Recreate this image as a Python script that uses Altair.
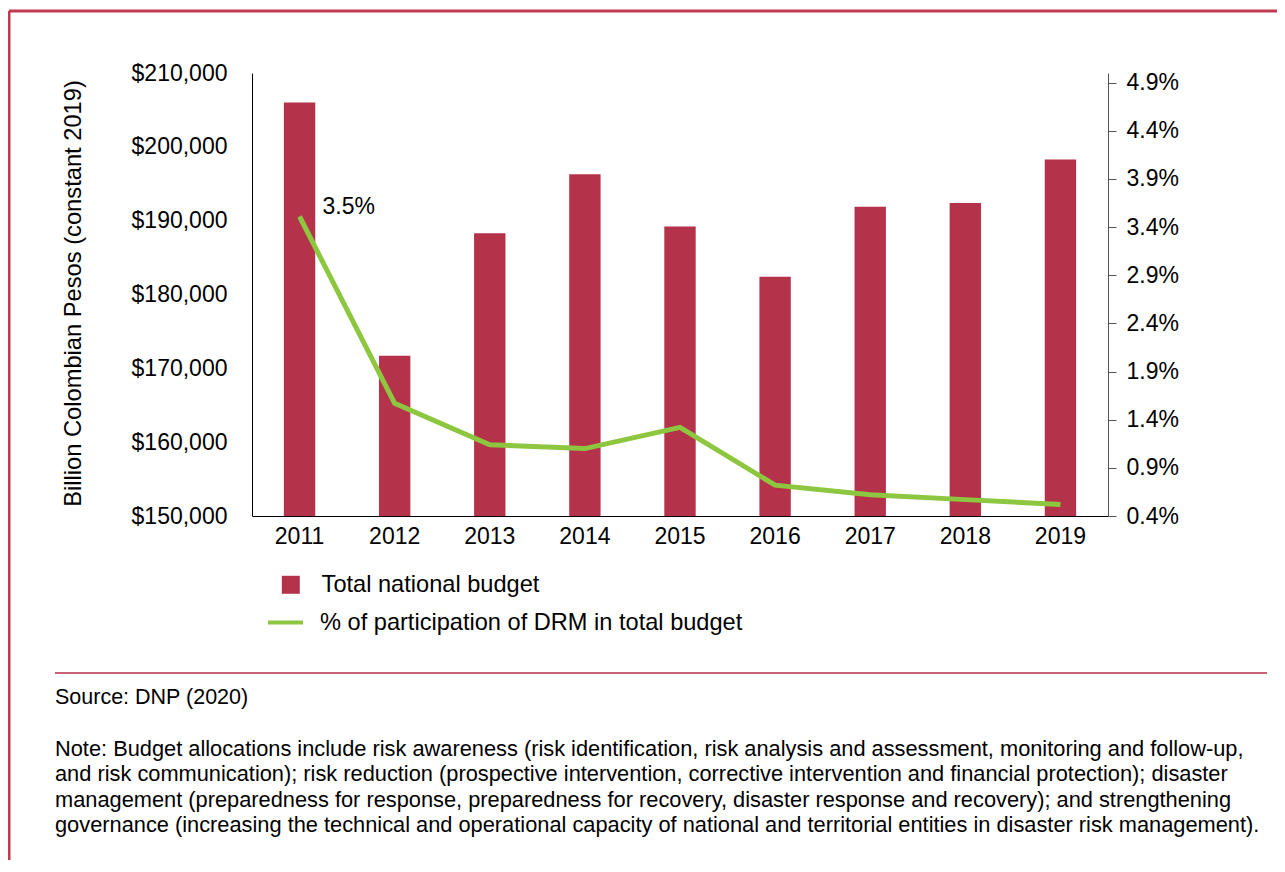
import altair as alt
import pandas as pd

# ---------------- data ----------------
years = ["2011", "2012", "2013", "2014", "2015", "2016", "2017", "2018", "2019"]
budget = [206000, 171700, 188300, 196300, 189200, 182400, 191900, 192400, 198300]
drm_share = [3.51, 1.57, 1.14, 1.10, 1.32, 0.72, 0.62, 0.57, 0.52]
left_ticks = [150000, 160000, 170000, 180000, 190000, 200000, 210000]
right_ticks = [0.4, 0.9, 1.4, 1.9, 2.4, 2.9, 3.4, 3.9, 4.4, 4.9]
series_labels = ["Total national budget", "% of participation of DRM in total budget"]
y_title = "Billion Colombian Pesos (constant 2019)"
source_text = "Source: DNP (2020)"
note_lines = [
    "Note: Budget allocations include risk awareness (risk identification, risk analysis and assessment, monitoring and follow-up,",
    "and risk communication); risk reduction (prospective intervention, corrective intervention and financial protection); disaster",
    "management (preparedness for response, preparedness for recovery, disaster response and recovery); and strengthening",
    "governance (increasing the technical and operational capacity of national and territorial entities in disaster risk management).",
]

BAR = "#B5334A"
GREEN = "#8DC63F"
BORDER = "#C0394F"
RULE = "#C86478"
FONT = "Liberation Sans"

df = pd.DataFrame({
    "year": years,
    "budget": budget,
    "drm": drm_share,
    "bar_series": series_labels[0],
    "line_series": series_labels[1],
})

W, H = 856, 443

x_enc = alt.X(
    "year:N",
    scale=alt.Scale(paddingInner=0.67, paddingOuter=0.335),
    axis=alt.Axis(title=None, labelAngle=0, ticks=False, domainColor="black",
                  labelFontSize=23, labelPadding=9, labelColor="black"),
)

bars = alt.Chart(df).mark_bar(color=BAR, clip=True).encode(
    x=x_enc,
    y=alt.Y(
        "budget:Q",
        scale=alt.Scale(domain=[150000, 210000], zero=False, nice=False),
        axis=alt.Axis(values=left_ticks, format="$,.0f", ticks=False, grid=False,
                      labelPadding=25, domainColor="black", labelFontSize=23,
                      labelColor="black",
                      title=y_title, titleX=-179, titleY=220, titleAngle=-90,
                      titleAlign="center", titleBaseline="middle",
                      titleFontSize=23.7, titleFontWeight="normal", titleColor="black"),
    ),
    fill=alt.Fill(
        "bar_series:N",
        scale=alt.Scale(domain=[series_labels[0]], range=[BAR]),
        legend=alt.Legend(title=None, orient="none", legendX=27, legendY=500,
                          symbolType="square", symbolSize=324, symbolStrokeWidth=0,
                          symbolFillColor=BAR,
                          labelFontSize=23.6, labelOffset=19, padding=0,
                          labelColor="black", labelLimit=800),
    ),
)

line = alt.Chart(df).mark_line(strokeWidth=5).encode(
    x=x_enc,
    y=alt.Y(
        "drm:Q",
        scale=alt.Scale(domain=[0.4, 5.0], zero=False, nice=False),
        axis=alt.Axis(orient="right", values=right_ticks,
                      labelExpr="format(datum.value, '.1f') + '%'",
                      tickSize=8, labelPadding=10, grid=False, title=None,
                      domainColor="#555555", tickColor="#555555",
                      labelFontSize=23, labelColor="black"),
    ),
    stroke=alt.Stroke(
        "line_series:N",
        scale=alt.Scale(domain=[series_labels[1]], range=[GREEN]),
        legend=alt.Legend(title=None, orient="none", legendX=14, legendY=530,
                          symbolType="stroke", symbolSize=1225, symbolStrokeWidth=4,
                          labelFontSize=23.6, labelOffset=15, padding=0,
                          labelColor="black", labelLimit=800),
    ),
)

label = alt.Chart(df).transform_filter(
    alt.datum.year == years[0]
).transform_calculate(
    lbl="format(datum.drm, '.1f') + '%'"
).mark_text(align="left", baseline="middle", dx=23, dy=-9, fontSize=23,
            color="black").encode(
    x=x_enc,
    y=alt.Y("drm:Q", scale=alt.Scale(domain=[0.4, 5.0], zero=False, nice=False), axis=None),
    text="lbl:N",
)

one = alt.Data(values=[{}])

top_border = alt.Chart(one).mark_rule(color=BORDER, strokeWidth=3).encode(
    x=alt.value(-243), x2=alt.value(1030), y=alt.value(-62))
left_border = alt.Chart(one).mark_rule(color=BORDER, strokeWidth=3).encode(
    x=alt.value(-243), y=alt.value(-62), y2=alt.value(800))
sep_rule = alt.Chart(one).mark_rule(color=RULE, strokeWidth=2).encode(
    x=alt.value(-197), x2=alt.value(1015), y=alt.value(600))

source = alt.Chart(one).mark_text(align="left", baseline="alphabetic", fontSize=21.5,
                                  color="black").encode(
    x=alt.value(-197), y=alt.value(631), text=alt.value(source_text))

note = alt.Chart(one).mark_text(align="left", baseline="alphabetic", fontSize=21.8,
                                lineHeight=25.3, color="black").encode(
    x=alt.value(-197), y=alt.value(683), text=alt.value(note_lines))

chart = alt.layer(
    bars, line, label, top_border, left_border, sep_rule, source, note
).resolve_scale(
    y="independent", fill="independent", stroke="independent"
).properties(
    width=W, height=H,
    autosize=alt.AutoSizeParams(type="none"),
    padding={"left": 244, "top": 65, "right": 169, "bottom": 344},
).configure(
    font=FONT,
).configure_view(
    stroke=None,
).configure_axis(
    labelFont=FONT, titleFont=FONT,
).configure_legend(
    labelFont=FONT,
)

chart.save("out.html", embed_options={"renderer": "svg", "actions": False})
